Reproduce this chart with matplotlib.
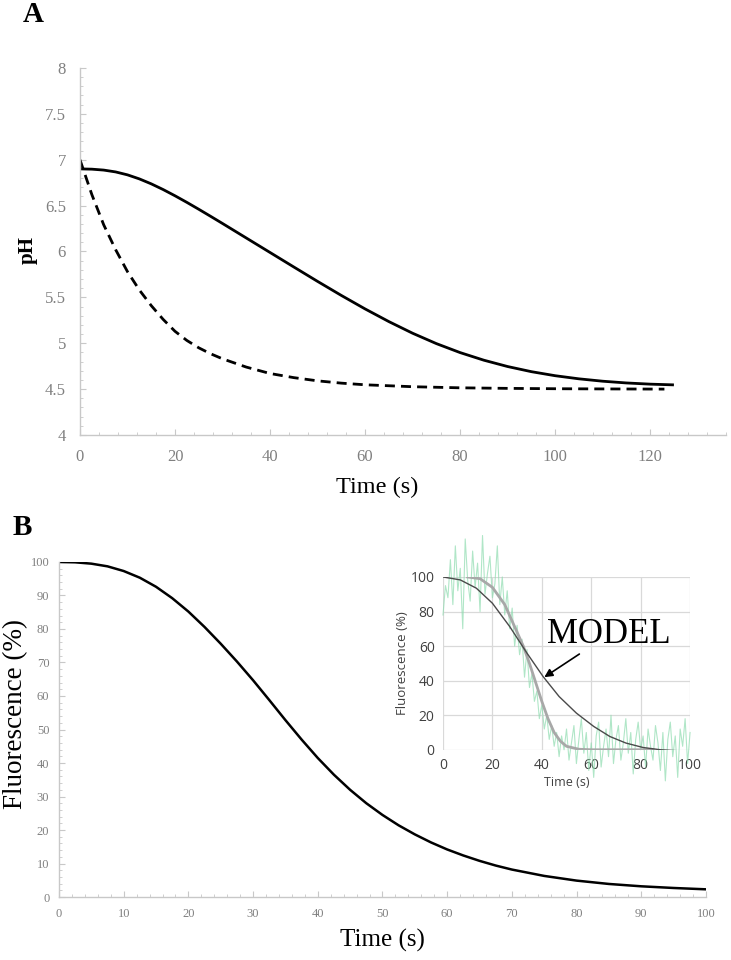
import matplotlib
matplotlib.use("Agg")
import matplotlib.pyplot as plt
from matplotlib.ticker import MultipleLocator

plt.rcParams['font.family'] = ['Liberation Serif', 'DejaVu Serif']

# ---- panel A: pH vs time ----
ph_t_solid = [0, 2.5, 5, 7.5, 10, 12.5, 15, 17.5, 20, 22.5, 25, 27.5, 30, 32.5, 35,
              37.5, 40, 45, 50, 55, 60, 65, 70, 75, 80, 85, 90, 95, 100, 105, 110,
              115, 120, 125]
ph_solid = [6.9, 6.897, 6.887, 6.867, 6.835, 6.791, 6.737, 6.675, 6.607, 6.535,
            6.46, 6.383, 6.305, 6.226, 6.147, 6.068, 5.989, 5.831, 5.674, 5.521,
            5.374, 5.236, 5.109, 4.996, 4.898, 4.815, 4.746, 4.69, 4.646, 4.612,
            4.586, 4.567, 4.554, 4.546]
ph_t_dash = [0, 2.5, 5, 7.5, 10, 12.5, 15, 17.5, 20, 22.5, 25, 27.5, 30, 35, 40,
             45, 50, 55, 60, 70, 80, 90, 100, 110, 123]
ph_dash = [7.0, 6.62, 6.29, 6.02, 5.78, 5.58, 5.41, 5.26, 5.13, 5.03, 4.95, 4.885,
           4.83, 4.74, 4.67, 4.625, 4.59, 4.565, 4.547, 4.526, 4.514, 4.508, 4.504,
           4.502, 4.5]

# ---- panel B: model fluorescence ----
fl_t = [0, 2.5, 5, 7.5, 10, 12.5, 15, 17.5, 20, 22.5, 25, 27.5, 30, 32.5, 35, 37.5,
        40, 42.5, 45, 47.5, 50, 52.5, 55, 57.5, 60, 62.5, 65, 67.5, 70, 75, 80, 85,
        90, 95, 100]
fl = [100, 99.9, 99.5, 98.7, 97.3, 95.3, 92.6, 89.2, 85.2, 80.6, 75.6, 70.3, 64.7,
      58.8, 52.8, 47.0, 41.5, 36.5, 32.0, 28.0, 24.5, 21.4, 18.7, 16.3, 14.2, 12.4,
      10.8, 9.4, 8.2, 6.3, 4.9, 3.9, 3.2, 2.7, 2.3]

# ---- inset: measured data, fit and model ----
raw_t = list(range(101))
raw = [78, 95, 88, 110, 84, 118, 92, 105, 70, 122, 98, 86, 115, 94, 108, 80, 124,
       90, 102, 112, 88,
       96, 118, 84, 100, 78, 92, 70, 82, 60, 72,
       55, 64, 42, 58, 36, 44, 28, 34, 18, 26,
       12, 20, 6, 14, 2, 10, -4, 8, 0, 12,
       -6, 4, 14, -8, 6, 18, -2, 10, -12, 4,
       -16, 8, 16, -10, 2, 12, -4, 20, -8, 6,
       14, -6, 4, 18, -2, 10, -14, 6, 16, 0,
       8, -10, 12, 2, -6, 14, 4, -12, 10, -18,
       6, 16, -4, 8, -16, 12, 2, 18, -8, 10]
fit_t = [10, 15, 20, 25, 30, 32.5, 35, 37.5, 40, 42.5, 45, 47.5, 50, 55, 60, 70, 80, 85]
fit = [100, 99, 94, 84, 68, 60, 50, 39, 28, 18, 10, 5, 2, 0.3, 0, 0, 0, 0]
model_t = [0, 7, 13.5, 20, 27, 34, 40.5, 47, 54, 61, 67.5, 74, 81, 88, 100]
model = [100, 98.3, 93.5, 84.8, 71.3, 55.9, 42.4, 30.8, 21.2, 13.5, 7.7, 3.9, 1.3, 0, -1]

tick_gray = '#808080'
spine_gray = '#c8c8c8'

fig = plt.figure(figsize=(7.31, 9.6), dpi=100)

# panel A
axA = fig.add_axes([0.1094, 0.5469, 0.884, 0.3823])
axA.plot(ph_t_solid, ph_solid, color='black', lw=2.0, solid_capstyle='butt')
axA.plot(ph_t_dash, ph_dash, color='black', lw=2.0, dashes=(3.6, 2.2))
axA.set_xlim(0, 136)
axA.set_ylim(4, 8)
axA.xaxis.set_major_locator(MultipleLocator(20))
axA.xaxis.set_minor_locator(MultipleLocator(4))
axA.yaxis.set_minor_locator(MultipleLocator(0.1))
axA.set_yticks([4, 4.5, 5, 5.5, 6, 6.5, 7, 7.5, 8])
axA.set_yticklabels(['4', '4.5', '5', '5.5', '6', '6.5', '7', '7.5', '8'])

# panel B
axB = fig.add_axes([0.0807, 0.0656, 0.885, 0.349])
axB.plot(fl_t, fl, color='black', lw=1.8)
axB.set_xlim(0, 100)
axB.set_ylim(0, 100)
axB.xaxis.set_major_locator(MultipleLocator(10))
axB.xaxis.set_minor_locator(MultipleLocator(2))
axB.yaxis.set_major_locator(MultipleLocator(10))
axB.yaxis.set_minor_locator(MultipleLocator(2))

for ax, fs, px, py in ((axA, 12, 10, 10), (axB, 9, 8, 7)):
    for s in ('top', 'right'):
        ax.spines[s].set_visible(False)
    for s in ('left', 'bottom'):
        ax.spines[s].set_color(spine_gray)
        ax.spines[s].set_linewidth(1.0)
    ax.tick_params(which='both', direction='in', color=spine_gray)
    ax.tick_params(which='major', length=4, labelsize=fs, labelcolor=tick_gray)
    ax.tick_params(axis='x', which='major', pad=px)
    ax.tick_params(axis='y', which='major', pad=py)
    ax.tick_params(which='minor', length=2.5)

# axis titles and panel letters placed like the original figure
fig.text(0.5157, 0.4927, 'Time (s)', fontsize=17.5, ha='center', va='center')
fig.text(0.0383, 0.7396, 'pH', fontsize=15, fontweight='bold', rotation=90,
         ha='center', va='center')
fig.text(0.5226, 0.0208, 'Time (s)', fontsize=18, ha='center', va='center')
fig.text(0.0215, 0.256, 'Fluorescence (%)', fontsize=19.5, rotation=90,
         ha='center', va='center')
fig.text(0.045, 0.985, 'A', fontsize=21, fontweight='bold', ha='center', va='center')
fig.text(0.030, 0.451, 'B', fontsize=21, fontweight='bold', ha='center', va='center')

# inset
axI = fig.add_axes([0.606, 0.219, 0.338, 0.180])
axI.plot(raw_t, raw, color='#8fdcb0', lw=0.8, alpha=0.7, clip_on=False, zorder=1)
axI.plot(fit_t, fit, color='#a8a8a8', lw=2.0, zorder=3)
axI.plot(model_t, model, color='#4a4a4a', lw=1.0, zorder=4)
axI.set_xlim(0, 100)
axI.set_ylim(0, 100)
axI.set_xticks([0, 20, 40, 60, 80, 100])
axI.set_yticks([0, 20, 40, 60, 80, 100])
axI.grid(True, color='#d9d9d9', lw=0.9)
axI.set_axisbelow(True)
for s in axI.spines.values():
    s.set_visible(False)
axI.patch.set_alpha(0)
axI.tick_params(length=0, labelsize=10, labelcolor='#404040', pad=6)
for lab in axI.get_xticklabels() + axI.get_yticklabels():
    lab.set_family('Open Sans')
axI.set_xlabel('Time (s)', fontsize=9, color='#404040', family='Open Sans', labelpad=2)
axI.set_ylabel('Fluorescence (%)', fontsize=9.5, color='#404040', family='Open Sans',
               labelpad=1)
axI.annotate('MODEL', xy=(41, 42), xytext=(42, 57), fontsize=25,
             ha='left', va='bottom',
             arrowprops=dict(arrowstyle='-|>', color='black', lw=1.2,
                             shrinkA=0, shrinkB=0, mutation_scale=12),
             zorder=5)

fig.savefig('out.png', dpi=100)
